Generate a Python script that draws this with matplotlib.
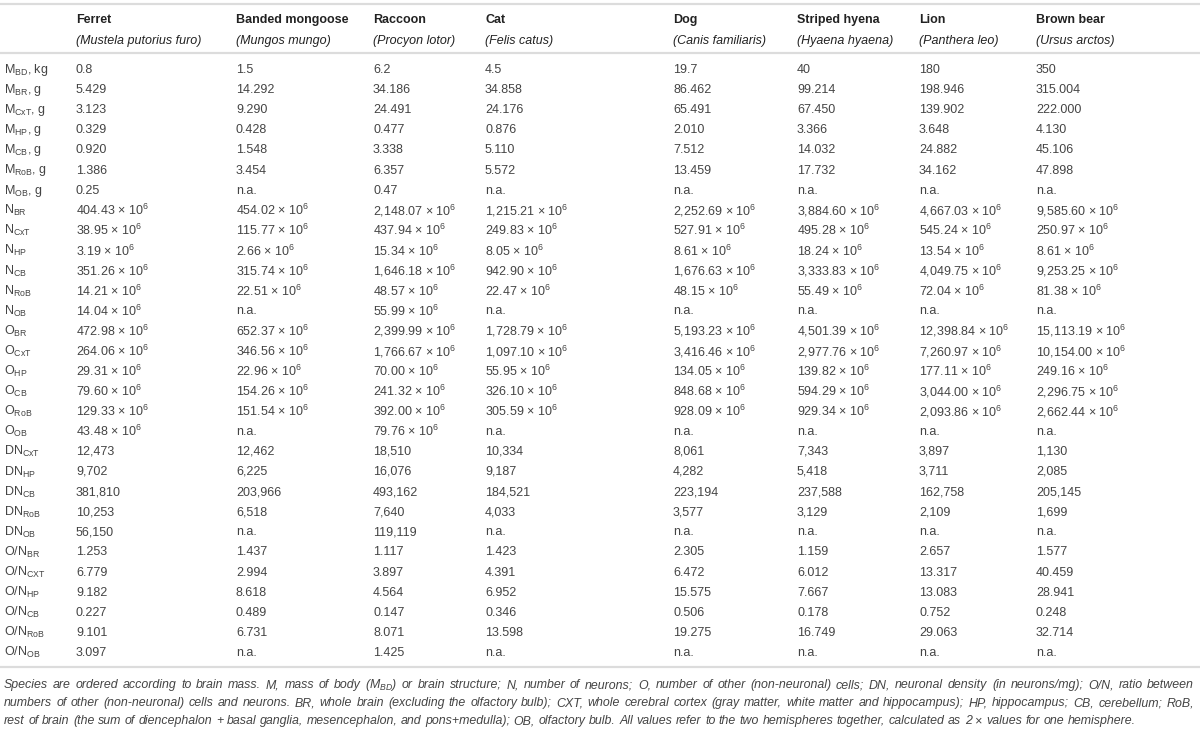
import matplotlib
matplotlib.use("Agg")
import matplotlib.pyplot as plt

plt.rcParams["font.family"] = ["Liberation Sans", "DejaVu Sans"]
plt.rcParams["mathtext.fontset"] = "custom"
plt.rcParams["mathtext.rm"] = "Liberation Sans"
plt.rcParams["mathtext.it"] = "Liberation Sans:italic"
plt.rcParams["mathtext.bf"] = "Liberation Sans:bold"

# ---- data ----
species = ["Ferret", "Banded mongoose", "Raccoon", "Cat", "Dog", "Striped hyena", "Lion", "Brown bear"]
latin = ["Mustela putorius furo", "Mungos mungo", "Procyon lotor", "Felis catus",
         "Canis familiaris", "Hyaena hyaena", "Panthera leo", "Ursus arctos"]

body_mass_kg = ["0.8", "1.5", "6.2", "4.5", "19.7", "40", "180", "350"]

parts = ["BR", "CxT", "HP", "CB", "RoB", "OB"]
mass_g = [
    [5.429, 14.292, 34.186, 34.858, 86.462, 99.214, 198.946, 315.004],
    [3.123, 9.290, 24.491, 24.176, 65.491, 67.450, 139.902, 222.000],
    [0.329, 0.428, 0.477, 0.876, 2.010, 3.366, 3.648, 4.130],
    [0.920, 1.548, 3.338, 5.110, 7.512, 14.032, 24.882, 45.106],
    [1.386, 3.454, 6.357, 5.572, 13.459, 17.732, 34.162, 47.898],
    [0.25, None, 0.47, None, None, None, None, None],
]
neurons_M = [
    [404.43, 454.02, 2148.07, 1215.21, 2252.69, 3884.60, 4667.03, 9585.60],
    [38.95, 115.77, 437.94, 249.83, 527.91, 495.28, 545.24, 250.97],
    [3.19, 2.66, 15.34, 8.05, 8.61, 18.24, 13.54, 8.61],
    [351.26, 315.74, 1646.18, 942.90, 1676.63, 3333.83, 4049.75, 9253.25],
    [14.21, 22.51, 48.57, 22.47, 48.15, 55.49, 72.04, 81.38],
    [14.04, None, 55.99, None, None, None, None, None],
]
others_M = [
    [472.98, 652.37, 2399.99, 1728.79, 5193.23, 4501.39, 12398.84, 15113.19],
    [264.06, 346.56, 1766.67, 1097.10, 3416.46, 2977.76, 7260.97, 10154.00],
    [29.31, 22.96, 70.00, 55.95, 134.05, 139.82, 177.11, 249.16],
    [79.60, 154.26, 241.32, 326.10, 848.68, 594.29, 3044.00, 2296.75],
    [129.33, 151.54, 392.00, 305.59, 928.09, 929.34, 2093.86, 2662.44],
    [43.48, None, 79.76, None, None, None, None, None],
]
density_parts = ["CxT", "HP", "CB", "RoB", "OB"]
density = [
    [12473, 12462, 18510, 10334, 8061, 7343, 3897, 1130],
    [9702, 6225, 16076, 9187, 4282, 5418, 3711, 2085],
    [381810, 203966, 493162, 184521, 223194, 237588, 162758, 205145],
    [10253, 6518, 7640, 4033, 3577, 3129, 2109, 1699],
    [56150, None, 119119, None, None, None, None, None],
]
ratio_parts = ["BR", "CXT", "HP", "CB", "RoB", "OB"]
ratio = [
    [1.253, 1.437, 1.117, 1.423, 2.305, 1.159, 2.657, 1.577],
    [6.779, 2.994, 3.897, 4.391, 6.472, 6.012, 13.317, 40.459],
    [9.182, 8.618, 4.564, 6.952, 15.575, 7.667, 13.083, 28.941],
    [0.227, 0.489, 0.147, 0.346, 0.506, 0.178, 0.752, 0.248],
    [9.101, 6.731, 8.071, 13.598, 19.275, 16.749, 29.063, 32.714],
    [3.097, None, 1.425, None, None, None, None, None],
]

footnote = [
    "Species are ordered according to brain mass. M, mass of body ($M_{BD}$) or brain structure; N, number of neurons; "
    "O, number of other (non-neuronal) cells; DN, neuronal density (in neurons/mg); O/N, ratio between",
    "numbers of other (non-neuronal) cells and neurons. BR, whole brain (excluding the olfactory bulb); CXT, whole "
    "cerebral cortex (gray matter, white matter and hippocampus); HP, hippocampus; CB, cerebellum; RoB,",
    "rest of brain (the sum of diencephalon + basal ganglia, mesencephalon, and pons+medulla); OB, olfactory bulb. "
    "All values refer to the two hemispheres together, calculated as 2 \u00d7 values for one hemisphere.",
]


def na(f):
    return lambda v: "n.a." if v is None else f(v)


fmt_mass = na(lambda v: f"{v:.3f}")
fmt_mass_ob = na(lambda v: f"{v:.2f}")
fmt_mil = na(lambda v: f"{v:,.2f} \u00d7 10$^{{6}}$")
fmt_int = na(lambda v: f"{v:,d}")
fmt_ratio = na(lambda v: f"{v:.3f}")


def sub(base, s, unit=""):
    return base + r"$_{\mathrm{" + s + "}}$" + unit


rows = [(sub("M", "BD", ", kg"), body_mass_kg)]
for p, vals in zip(parts, mass_g):
    f = fmt_mass_ob if p == "OB" else fmt_mass
    rows.append((sub("M", p, ", g"), [f(v) for v in vals]))
for p, vals in zip(parts, neurons_M):
    rows.append((sub("N", p), [fmt_mil(v) for v in vals]))
for p, vals in zip(parts, others_M):
    rows.append((sub("O", p), [fmt_mil(v) for v in vals]))
for p, vals in zip(density_parts, density):
    rows.append((sub("DN", p), [fmt_int(v) for v in vals]))
for p, vals in zip(ratio_parts, ratio):
    rows.append((sub("O/N", p), [fmt_ratio(v) for v in vals]))

# ---- layout ----
W, H = 1200, 750
fig = plt.figure(figsize=(12, 7.5), dpi=100)
ax = fig.add_axes([0, 0, 1, 1])
ax.set_xlim(0, W)
ax.set_ylim(H, 0)
ax.axis("off")

col_x = [76, 236, 373, 485, 673, 797, 919, 1036]
label_x = 4
y0, dy = 70, 20.1
txt_col = "#444444"
fs = 9

rule = dict(color="#dcdcdc", lw=1.6)
ax.plot([0, W], [4, 4], **rule)
ax.plot([0, W], [53, 53], **rule)
ax.plot([0, W], [667, 667], **rule)

for x, name, lat in zip(col_x, species, latin):
    ax.text(x, 20, name, fontsize=fs, fontweight="bold", color="#222222", va="center")
    ax.text(x, 41, f"({lat})", fontsize=fs, style="italic", color="#222222", va="center")

for i, (lab, vals) in enumerate(rows):
    y = y0 + i * dy
    ax.text(label_x, y, lab, fontsize=fs, color=txt_col, va="center")
    for x, v in zip(col_x, vals):
        ax.text(x, y, v, fontsize=fs, color=txt_col, va="center")

# justified footnote (baseline aligned, word by word)
fn_fs = 8.9
fig.canvas.draw()
renderer = fig.canvas.get_renderer()
probe1 = ax.text(0, 0, "a b", fontsize=fn_fs, style="italic")
probe2 = ax.text(0, 0, "ab", fontsize=fn_fs, style="italic")
space = probe1.get_window_extent(renderer).width - probe2.get_window_extent(renderer).width
probe1.remove()
probe2.remove()

fn_base = [688, 706, 724]
left, right = 4, 1194
for j, line in enumerate(footnote):
    words = line.split(" ")
    arts = [ax.text(0, fn_base[j], w, fontsize=fn_fs, style="italic", color="#444444",
                    va="baseline") for w in words]
    widths = [a.get_window_extent(renderer).width for a in arts]
    total = sum(widths)
    if j < len(footnote) - 1:
        gap = (right - left - total) / (len(words) - 1)
    else:
        gap = space
    x = left
    for a, w in zip(arts, widths):
        a.set_x(x)
        x += w + gap

fig.savefig("out.png", dpi=100)
